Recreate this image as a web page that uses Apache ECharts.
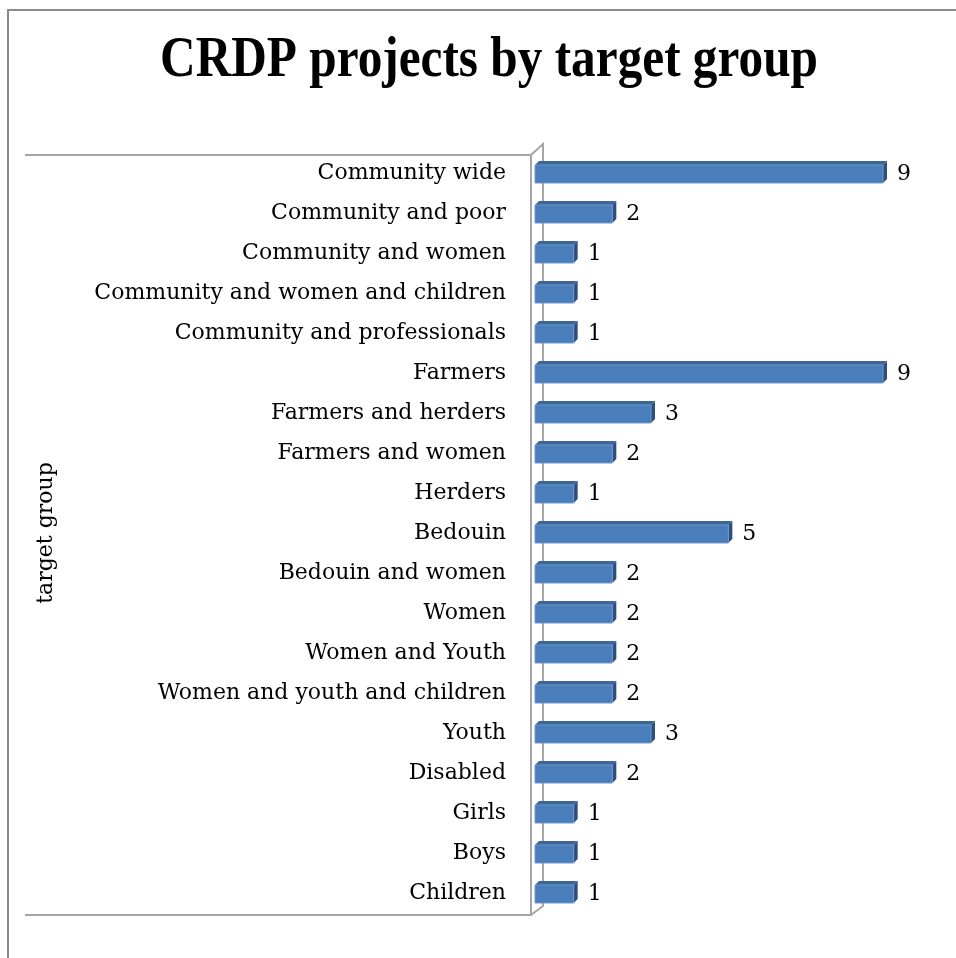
<!DOCTYPE html>
<html><head><meta charset="utf-8">
<script src="https://cdn.jsdelivr.net/npm/echarts@6/dist/echarts.min.js"></script>
<style>html,body{margin:0;padding:0;background:#fff}#c{width:956px;height:958px}</style>
</head><body><div id="c"></div>
<script>
const categories = ["Community wide","Community and poor","Community and women","Community and women and children","Community and professionals","Farmers","Farmers and herders","Farmers and women","Herders","Bedouin","Bedouin and women","Women","Women and Youth","Women and youth and children","Youth","Disabled","Girls","Boys","Children"];
const values = [9,2,1,1,1,9,3,2,1,5,2,2,2,2,3,2,1,1,1];
const titleText = "CRDP projects by target group";
const axisName = "target group";

const FONT = "DejaVu Serif";
const chart = echarts.init(document.getElementById('c'));
const GL = 535, GT = 153, GW = 348, GH = 760;
const D = 4; // 3D depth
chart.setOption({
  animation:false,
  grid:{left:GL,top:GT,width:GW,height:GH},
  xAxis:{type:'value',min:0,max:9,interval:1,show:false},
  yAxis:{type:'category',data:categories,inverse:true,
    axisLine:{show:false},axisTick:{show:false},
    axisLabel:{margin:29,fontFamily:FONT,fontSize:22,color:'#000'},
    name:axisName,nameLocation:'middle',nameGap:478,nameRotate:90,
    nameTextStyle:{fontFamily:FONT,fontSize:22,color:'#000'}},
  series:[{type:'custom',data:values.map((v,i)=>[v,i]),
    renderItem:function(params,api){
      const v=api.value(0), i=api.value(1);
      const p0=api.coord([0,i]), p1=api.coord([v,i]);
      const h=18, x0=p0[0], x1=p1[0], y0=p0[1]-h/2+1, y1=y0+h;
      return {type:'group',children:[
        {type:'polygon',shape:{points:[[x0,y0],[x0+D,y0-D],[x1+D,y0-D],[x1,y0]]},style:{fill:'#3d6698'}},
        {type:'polygon',shape:{points:[[x1,y0],[x1+D,y0-D],[x1+D,y1-D],[x1,y1]]},style:{fill:'#2c4f7f'}},
        {type:'rect',shape:{x:x0,y:y0,width:x1-x0,height:h},style:{fill:'#4a7ebb',stroke:'#6f98cc',lineWidth:1}},
        {type:'text',x:x1+D+10,y:(y0+y1)/2,style:{text:String(v),fontFamily:FONT,fontSize:22,fill:'#000',verticalAlign:'middle',align:'left'}}
      ]};
    }}],
  graphic:[
    {type:'text',x:489,y:62,scaleX:0.88,style:{text:titleText,fontFamily:"Liberation Serif",fontWeight:'bold',fontSize:56,fill:'#000',align:'center',verticalAlign:'middle'}},
    {type:'polyline',shape:{points:[[8,958],[8,10],[956,10]]},style:{stroke:'#8a8a8a',lineWidth:2,fill:null}},
    {type:'polyline',shape:{points:[[25,155],[531,155],[531,915],[25,915]]},style:{stroke:'#a6a6a6',lineWidth:2,fill:null}},
    {type:'polyline',shape:{points:[[531,155],[543,144],[543,906],[531,915]]},style:{stroke:'#a6a6a6',lineWidth:2,fill:null}}
  ]
});
</script></body></html>
